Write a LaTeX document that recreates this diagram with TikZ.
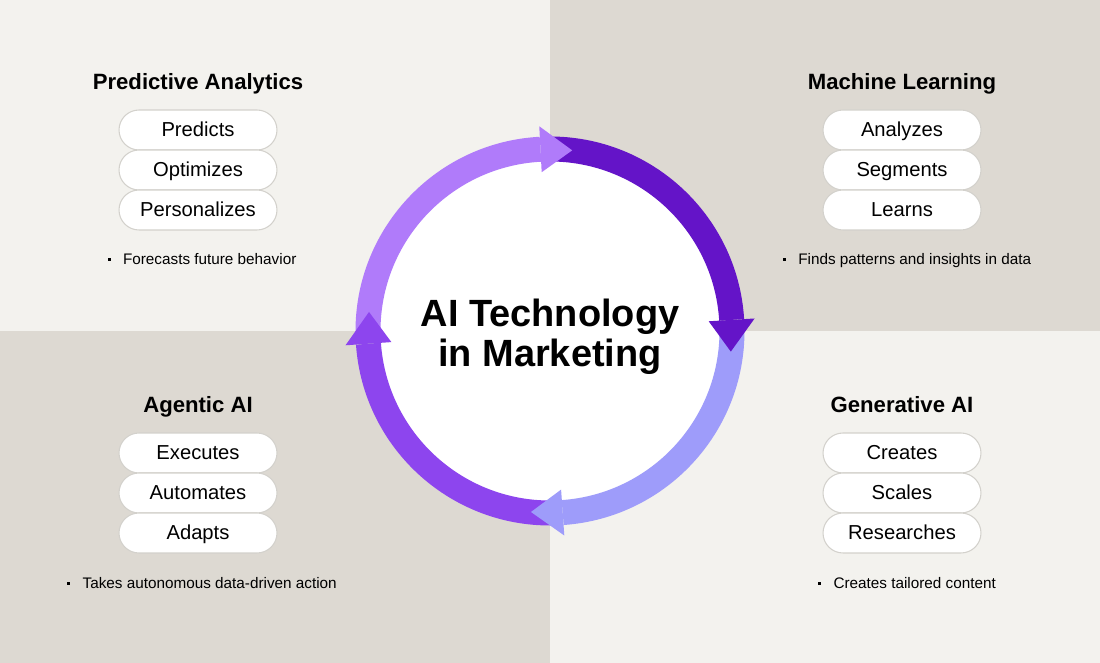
\documentclass[tikz,border=0pt]{standalone}
\usepackage{fontspec}
\setmainfont{Liberation Sans}
\usetikzlibrary{calc}
\definecolor{paper}{HTML}{F3F2EE}
\definecolor{stone}{HTML}{DDD9D2}
\definecolor{lilac}{HTML}{B07BFA}
\definecolor{violet}{HTML}{6414C8}
\definecolor{periwinkle}{HTML}{9E9CFA}
\definecolor{amethyst}{HTML}{8D45EE}
\definecolor{pillline}{HTML}{D3D1CC}
\def\ringpart[#1](#2)(#3:#4:#5){\draw[#1] ($(#2)+(#3:#5)$) arc (#3:#4:#5);}
\def\ringhead[#1](#2)(#3:#4:#5){\fill[#1] ($(#2)+(#3:#5-23)$) -- ($(#2)+(#3:#5+23)$) -- ($(#2)+(#4:#5)$) -- cycle;}
\newcommand{\bul}{\rule[1.9pt]{1.8pt}{1.8pt}\hspace{7pt}}
\tikzset{
	title/.style={font=\fontsize{12.6}{14}\selectfont\bfseries, text height=0.72em, text depth=0pt, inner sep=0pt},
	pill/.style={draw=pillline, line width=0.6pt, fill=white, rounded corners=0.4cm, minimum width=3.16cm, minimum height=0.8cm, inner sep=0pt, text height=0.72em, text depth=0pt, font=\fontsize{11.5}{13}\selectfont},
	note/.style={font=\fontsize{8.7}{11}\selectfont, text height=0.72em, text depth=0pt, inner sep=0pt},
}

\begin{document}
\begin{tikzpicture}[x=0.02cm, y=0.02cm]
			%%%%% START %%%%%
			
			\fill[paper] (0, 0) rectangle (1100, 663);
			\fill[stone] (550, 332) rectangle (1100, 663);
			\fill[stone] (0, 0) rectangle (550, 332);
			
			\coordinate (c) at (550, 332);
			\fill[white] (c) circle (171);
			
			\foreach \a/\b/\col in {182/93/lilac, 92/3.5/violet, 2/-86/periwinkle, -88/-176/amethyst}
				{\ringpart[line width=0.5cm, color=\col](c)(\a:\b:182)}
			\foreach \b/\t/\col in {93/83/lilac, 3.5/-6.5/violet, -86/-96/periwinkle, -176/-186/amethyst}
				{\ringhead[color=\col](c)(\b:\t:182)}
			
			\node[font=\fontsize{21.6}{22.7}\selectfont\bfseries, align=center] (core) at (550, 326) {AI Technology\\in Marketing};
			
			\node[title] (pa) at (198, 580) {Predictive Analytics};
			\node[pill] (pa1) at (198, 533) {Predicts};
			\node[pill] (pa2) at (198, 493) {Optimizes};
			\node[pill] (pa3) at (198, 453) {Personalizes};
			\node[note] (pan) at (202, 405) {\bul Forecasts future behavior};
			
			\node[title] (ml) at (902, 580) {Machine Learning};
			\node[pill] (ml1) at (902, 533) {Analyzes};
			\node[pill] (ml2) at (902, 493) {Segments};
			\node[pill] (ml3) at (902, 453) {Learns};
			\node[note] (mln) at (907, 405) {\bul Finds patterns and insights in data};
			
			\node[title] (ag) at (198, 257) {Agentic AI};
			\node[pill] (ag1) at (198, 210) {Executes};
			\node[pill] (ag2) at (198, 170) {Automates};
			\node[pill] (ag3) at (198, 130) {Adapts};
			\node[note] (agn) at (202, 81) {\bul Takes autonomous data-driven action};
			
			\node[title] (ga) at (902, 257) {Generative AI};
			\node[pill] (ga1) at (902, 210) {Creates};
			\node[pill] (ga2) at (902, 170) {Scales};
			\node[pill] (ga3) at (902, 130) {Researches};
			\node[note] (gan) at (907, 81) {\bul Creates tailored content};
			
			%%%%% END %%%%%
\end{tikzpicture}
\end{document}
